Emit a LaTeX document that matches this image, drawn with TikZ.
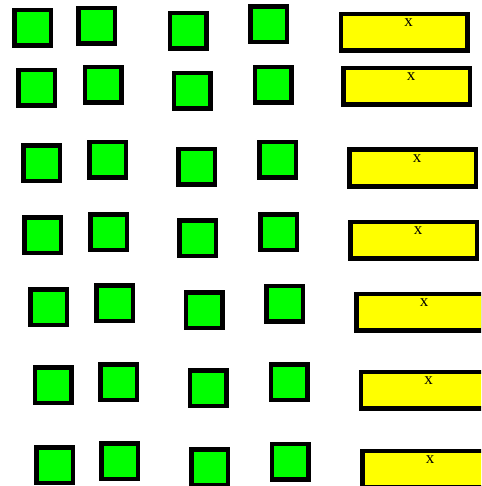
\documentclass[tikz,border=0pt]{standalone}
\usepackage{fontspec}
\setmainfont{Liberation Serif}
\usepackage{tikz}
\usetikzlibrary{positioning}
\usepackage{xcolor}
\definecolor{cellgreen}{RGB}{0,255,0}
\definecolor{baryellow}{RGB}{255,255,0}

\begin{document}
\begin{tikzpicture}[x=1pt, y=-1pt,
    cell/.style={draw=black, line width=4.5pt, fill=cellgreen, inner sep=0pt,
                 minimum width=36.5pt, minimum height=35.5pt},
    bar/.style={draw=black, line width=4.5pt, fill=baryellow, inner sep=0pt,
                minimum width=126.5pt, minimum height=36.5pt},
    tag/.style={font=\fontsize{17}{17}\selectfont, inner sep=0pt}]
    \useasboundingbox (0,0) rectangle (481,486);
    \clip (0,0) rectangle (481,486);

    % ── Rows: four green cells, then one yellow bar with its mark ─────────────
    \foreach \r/\ax/\ay/\bx/\by/\cx/\cy/\dx/\dy/\ex/\ey in {
        1/32.5/28/96.5/26/188/31/268.5/24.5/404/32.5,
        2/36.5/88/103/85/192/91/273/85/406.5/86.5,
        3/41.5/163.5/107.5/160/196.5/167/277.5/160/412.5/168,
        4/42.5/235/108.5/232/197.5/238/278.5/232/413.5/240,
        5/48.5/307/114.5/303/204/310/284.5/303.5/419.5/312,
        6/53/385/118.5/382/208/388/289/382/424/390,
        7/54.5/465/119.5/461/209.5/467/290/461.5/425.5/469} {
      \node[cell] (a\r) at (\ax,\ay) {};
      \node[cell] (b\r) at (\bx,\by) {};
      \node[cell] (c\r) at (\cx,\cy) {};
      \node[cell] (d\r) at (\dx,\dy) {};
      \node[bar]  (e\r) at (\ex,\ey) {};
      \node[tag]  (x\r) at ([xshift=4.5pt,yshift=-11pt]e\r.north) {x};
    }
  \end{tikzpicture}
\end{document}
